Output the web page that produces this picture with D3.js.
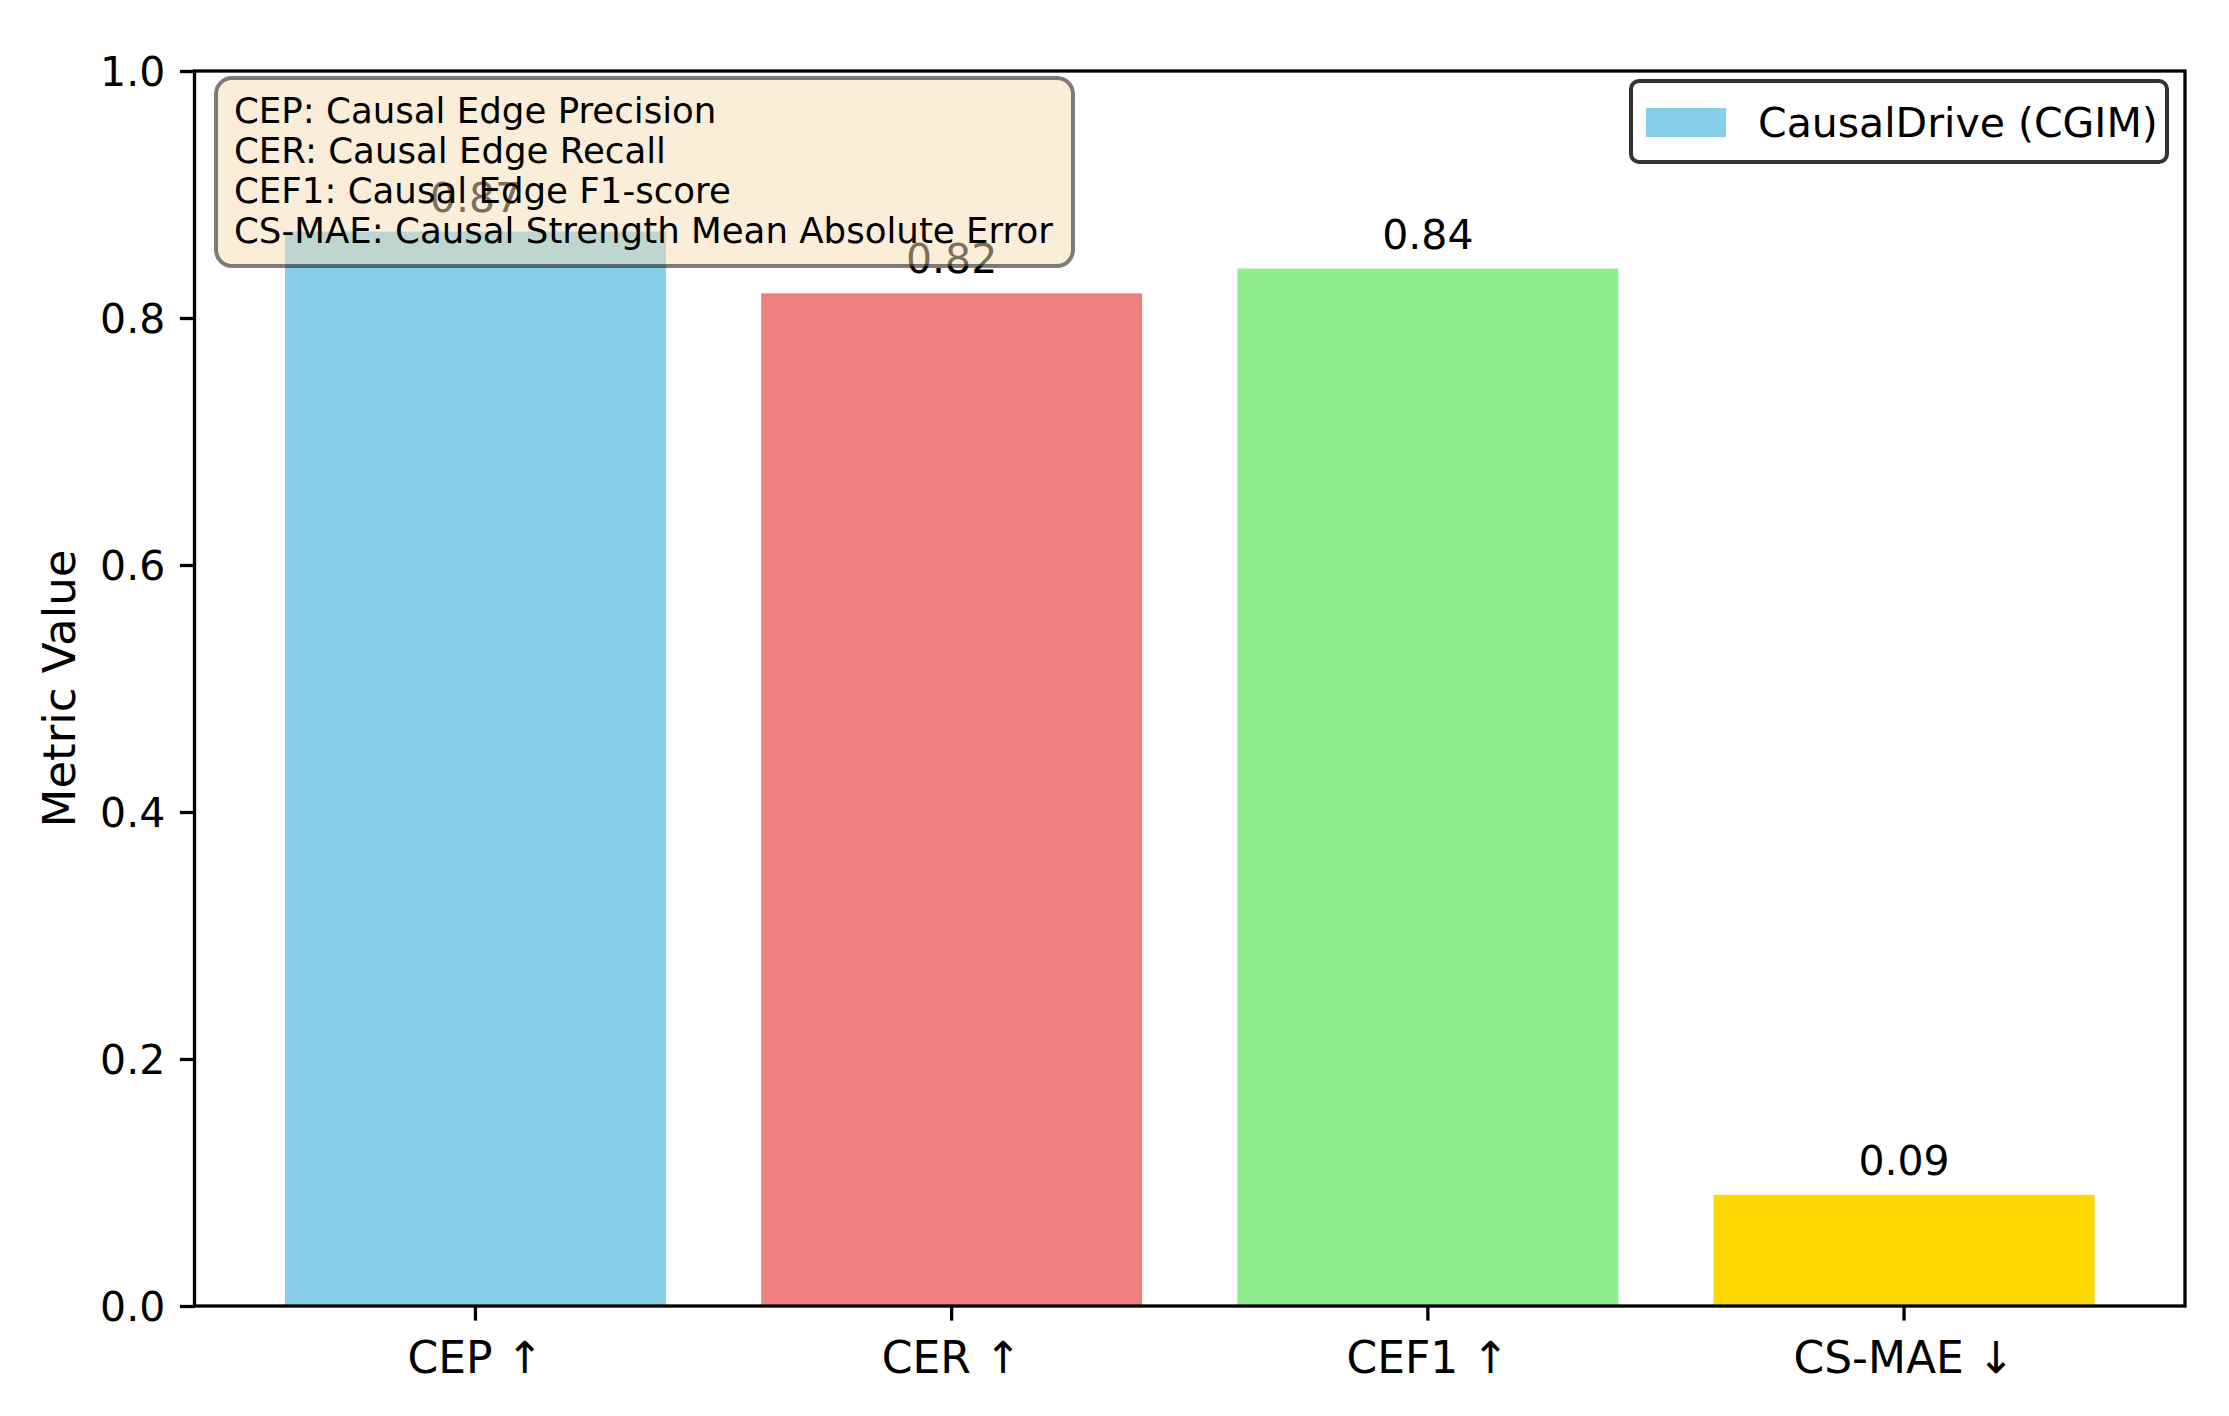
<!DOCTYPE html>
<html>
<head>
<meta charset="utf-8">
<script src="https://cdn.jsdelivr.net/npm/d3@7"></script>
<style>
  html, body { margin: 0; padding: 0; background: #ffffff; }
  svg { display: block; font-family: "DejaVu Sans", sans-serif; }
</style>
</head>
<body>
<script>
// ---- data ----
const categories = ["CEP \u2191", "CER \u2191", "CEF1 \u2191", "CS-MAE \u2193"];
const values = [0.87, 0.82, 0.84, 0.09];
const valueLabels = ["0.87", "0.82", "0.84", "0.09"];
const barColors = ["#87CEEB", "#F08080", "#90EE90", "#FFD700"];
const yTicks = [0.0, 0.2, 0.4, 0.6, 0.8, 1.0];
const yTickLabels = ["0.0", "0.2", "0.4", "0.6", "0.8", "1.0"];
const legendLabel = "CausalDrive (CGIM)";
const yAxisTitle = "Metric Value";
const noteLines = [
  "CEP: Causal Edge Precision",
  "CER: Causal Edge Recall",
  "CEF1: Causal Edge F1-score",
  "CS-MAE: Causal Strength Mean Absolute Error"
];

// ---- layout ----
const W = 2229, H = 1416;
const plot = { left: 194.5, right: 2185, top: 71, bottom: 1306 };

const svg = d3.select("body").append("svg")
  .attr("width", W).attr("height", H)
  .attr("viewBox", `0 0 ${W} ${H}`);

svg.append("rect").attr("width", W).attr("height", H).attr("fill", "#ffffff");

const x = d3.scaleBand()
  .domain(categories)
  .range([plot.left, plot.right])
  .paddingInner(0.2)
  .paddingOuter(0.19);

const y = d3.scaleLinear().domain([0, 1]).range([plot.bottom, plot.top]);

// bars
svg.append("g").selectAll("rect").data(categories).join("rect")
  .attr("x", d => x(d))
  .attr("width", x.bandwidth())
  .attr("y", (d, i) => y(values[i]))
  .attr("height", (d, i) => y(0) - y(values[i]))
  .attr("fill", (d, i) => barColors[i]);

// bar value labels
svg.append("g").selectAll("text").data(categories).join("text")
  .attr("x", d => x(d) + x.bandwidth() / 2)
  .attr("y", (d, i) => y(values[i]) - 20)
  .attr("text-anchor", "middle")
  .attr("font-size", 41)
  .attr("fill", "#000")
  .text((d, i) => valueLabels[i]);

// axes
const tickLen = 14.6, tickPad = 14.6;
const yAxis = d3.axisLeft(y)
  .tickValues(yTicks)
  .tickFormat((d, i) => yTickLabels[i])
  .tickSizeInner(tickLen).tickSizeOuter(0).tickPadding(tickPad);
const gy = svg.append("g").attr("transform", `translate(${plot.left},0)`).call(yAxis);
gy.select(".domain").remove();
gy.selectAll(".tick line").attr("stroke", "#000").attr("stroke-width", 3.3);
gy.selectAll(".tick text").attr("font-size", 41).attr("fill", "#000")
  .attr("font-family", "DejaVu Sans").attr("dy", "0.36em");

const xAxis = d3.axisBottom(x).tickSizeInner(tickLen).tickSizeOuter(0).tickPadding(tickPad);
const gx = svg.append("g").attr("transform", `translate(0,${plot.bottom})`).call(xAxis);
gx.select(".domain").remove();
gx.selectAll(".tick line").attr("stroke", "#000").attr("stroke-width", 3.3);
gx.selectAll(".tick text").attr("font-size", 44).attr("fill", "#000")
  .attr("font-family", "DejaVu Sans").attr("dy", "0.86em");

// spines
svg.append("rect")
  .attr("x", plot.left).attr("y", plot.top)
  .attr("width", plot.right - plot.left).attr("height", plot.bottom - plot.top)
  .attr("fill", "none").attr("stroke", "#000").attr("stroke-width", 3.3);

// y-axis title
svg.append("text")
  .attr("transform", `translate(75,${(plot.top + plot.bottom) / 2}) rotate(-90)`)
  .attr("text-anchor", "middle")
  .attr("font-size", 45)
  .attr("fill", "#000")
  .text(yAxisTitle);

// legend
const lg = svg.append("g");
lg.append("rect")
  .attr("x", 1631).attr("y", 81).attr("width", 536).attr("height", 81)
  .attr("rx", 8).attr("ry", 8)
  .attr("fill", "#ffffff").attr("stroke", "#333333").attr("stroke-width", 4);
lg.append("rect")
  .attr("x", 1646).attr("y", 108).attr("width", 80).attr("height", 29)
  .attr("fill", barColors[0]);
lg.append("text")
  .attr("x", 1758).attr("y", 137)
  .attr("font-size", 41).attr("fill", "#000")
  .text(legendLabel);

// annotation text box (semi-transparent, drawn on top)
const nb = svg.append("g");
nb.append("rect")
  .attr("x", 216).attr("y", 78).attr("width", 857).attr("height", 188)
  .attr("rx", 16).attr("ry", 16)
  .attr("fill", "#F5DEB3").attr("fill-opacity", 0.5)
  .attr("stroke", "#000").attr("stroke-opacity", 0.5).attr("stroke-width", 4);
nb.selectAll("text").data(noteLines).join("text")
  .attr("x", 234)
  .attr("y", (d, i) => 123 + i * 40)
  .attr("font-size", 35.6).attr("fill", "#000")
  .text(d => d);
</script>
</body>
</html>
